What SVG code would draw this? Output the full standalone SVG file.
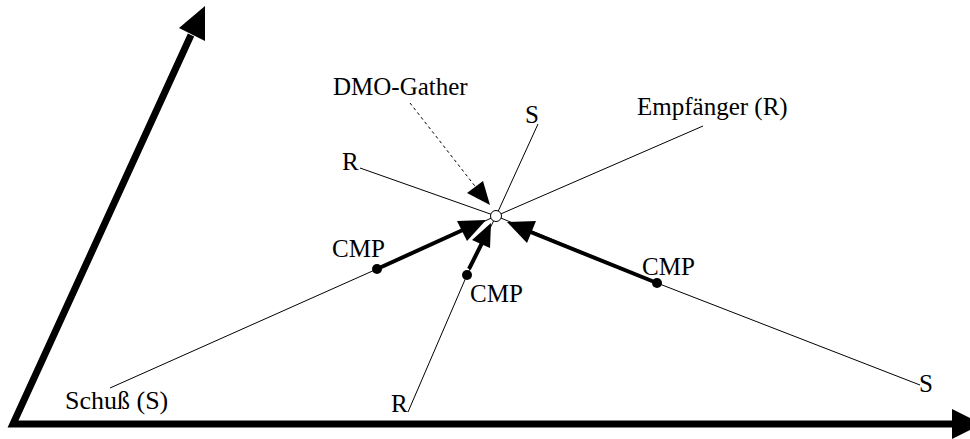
<svg xmlns="http://www.w3.org/2000/svg" width="970" height="439" viewBox="0 0 970 439">
<style>
text{font-family:"Liberation Serif","Times New Roman",serif;font-size:25px;fill:#000}
.thin{stroke:#000;stroke-width:1;fill:none}
.thick{stroke:#000;stroke-width:4;fill:none}
.axis{stroke:#000;stroke-width:7;fill:none;stroke-linejoin:miter}
.dash{stroke:#000;stroke-width:1;fill:none;stroke-dasharray:3 3}
.head{fill:#000;stroke:none}
</style>
<rect width="970" height="439" fill="#fff"/>
<g id="axes">
<path class="axis" d="M191,35 L13,424 L955,424"/>
<polygon class="head" points="205,6 179,28 205,41"/>
<polygon class="head" points="952,409 982,424 952,439"/>
</g>
<g id="connectors">
<polyline class="thin" points="110,388 377,269 496,216 703,126"/>
<polyline class="thin" points="408,412 467,275 496,216 538,124"/>
<polyline class="thin" points="360,168 496,216 657,283 920,385"/>
<line class="thick" x1="377" y1="269" x2="465" y2="229"/>
<polygon class="head" points="486,220 457,221 467,241"/>
<line class="thick" x1="469" y1="269" x2="482" y2="243"/>
<polygon class="head" points="491,223 472,240 490,248"/>
<line class="thick" x1="657" y1="283" x2="528" y2="231"/>
<polygon class="head" points="507,222 536,221 527,243"/>
<line class="dash" x1="410" y1="103" x2="478" y2="190"/>
<polygon class="head" points="490,205 467,193 483,181"/>
</g>
<g id="gather">
<circle cx="496" cy="216" r="5.5" fill="#fff" stroke="#000" stroke-width="1"/>
</g>
<g id="cmp1"><circle cx="377" cy="269" r="5"/><text x="332" y="257">CMP</text></g>
<g id="cmp2"><circle cx="467" cy="275" r="5"/><text x="470" y="302">CMP</text></g>
<g id="cmp3"><circle cx="657" cy="283" r="5"/><text x="642" y="275">CMP</text></g>
<g id="labels">
<text x="333" y="95">DMO-Gather</text>
<text x="525" y="123">S</text>
<text x="637" y="115">Empfänger (R)</text>
<text x="342" y="170">R</text>
<text x="65" y="409" style="font-size:26px">Schuß (S)</text>
<text x="391" y="412">R</text>
<text x="919" y="392">S</text>
</g>
</svg>
